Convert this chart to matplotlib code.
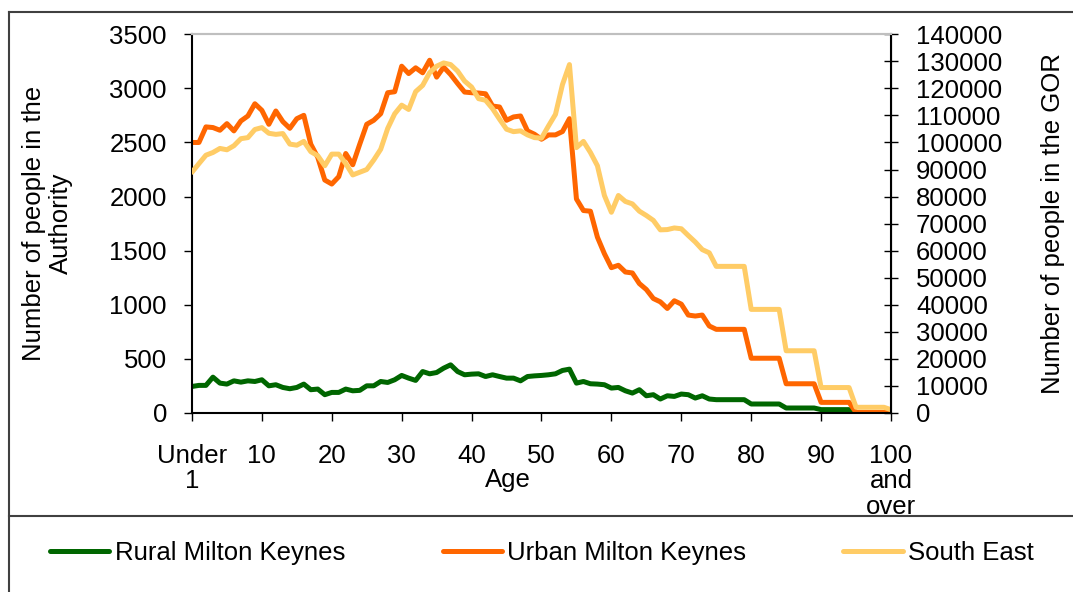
import matplotlib
matplotlib.use('Agg')
import matplotlib.pyplot as plt
from matplotlib.lines import Line2D

# Data
ages = list(range(0, 101))

rural_mk = [245, 255, 255, 331, 276, 267, 297, 285, 297, 291,
            307, 251, 261, 236, 224, 236, 267, 215, 221, 169,
            190, 190, 221, 205, 209, 251, 251, 291, 282, 307,
            347, 322, 301, 383, 362, 374, 414, 445, 383, 353,
            359, 362, 337, 353, 337, 322, 322, 297, 337, 343,
            347, 353, 362, 393, 405, 276, 291, 270, 267, 261,
            230, 236, 205, 184, 215, 159, 169, 129, 159, 153,
            175, 169, 138, 159, 129, 123, 123, 123, 123, 123,
            83, 83, 83, 83, 83, 46, 46, 46, 46, 46,
            31, 31, 31, 31, 31, 3, 3, 3, 3, 3, 3]

urban_mk = [2500, 2500, 2644, 2638, 2613, 2674, 2607, 2699, 2745, 2858,
            2797, 2668, 2791, 2693, 2631, 2720, 2751, 2484, 2362, 2153,
            2116, 2184, 2398, 2294, 2484, 2668, 2705, 2766, 2960, 2969,
            3205, 3137, 3190, 3144, 3260, 3104, 3196, 3128, 3045, 2966,
            2960, 2957, 2950, 2837, 2828, 2705, 2736, 2745, 2607, 2576,
            2530, 2570, 2570, 2601, 2720, 1978, 1871, 1865, 1625, 1472,
            1343, 1365, 1303, 1294, 1196, 1141, 1058, 1027, 966, 1037,
            1006, 905, 896, 905, 804, 773, 773, 773, 773, 773,
            506, 506, 506, 506, 506, 270, 270, 270, 270, 270,
            98, 98, 98, 98, 98, 5, 5, 5, 5, 5, 5]

south_east = [89000, 92200, 95300, 96300, 97800, 97300, 98800, 101400, 101800, 104800,
              105500, 103400, 103000, 103300, 99400, 99000, 100400, 96600, 95100, 91400,
              95700, 95700, 92200, 88000, 89000, 90000, 93500, 97500, 105200, 110600,
              113800, 112200, 118800, 121100, 125800, 128200, 129400, 128800, 126400, 122700,
              120500, 116200, 115600, 112500, 108600, 104900, 104000, 104300, 102800, 101800,
              101600, 106100, 110400, 121400, 128800, 98100, 100400, 96300, 91400, 80400,
              74200, 80400, 78200, 77300, 74600, 73000, 71200, 67700, 67800, 68400,
              68100, 65600, 63200, 60400, 59200, 54200, 54200, 54200, 54200, 54200,
              38300, 38300, 38300, 38300, 38300, 23000, 23000, 23000, 23000, 23000,
              9400, 9400, 9400, 9400, 9400, 2100, 2100, 2100, 2100, 2100, 1200]

x_ticks = list(range(0, 101, 10))
x_labels = ['Under\n1'] + [str(t) for t in range(10, 100, 10)] + ['100\nand\nover']

plt.rcParams['font.family'] = ['Liberation Sans', 'DejaVu Sans']
plt.rcParams['font.size'] = 18.5

fig = plt.figure(figsize=(10.73, 5.92), dpi=100)
ax = fig.add_axes([0.1789, 0.3024, 0.6515, 0.6397])
ax2 = ax.twinx()

l1, = ax.plot(ages, rural_mk, color='#006600', lw=3.6, solid_capstyle='round',
              solid_joinstyle='round', label='Rural Milton Keynes')
l2, = ax.plot(ages, urban_mk, color='#FF6600', lw=3.6, solid_capstyle='round',
              solid_joinstyle='round', label='Urban Milton Keynes')
l3, = ax2.plot(ages, south_east, color='#FFCC66', lw=3.6, solid_capstyle='round',
               solid_joinstyle='round', label='South East')

ax.set_xlim(0, 100)
ax.set_ylim(0, 3500)
ax2.set_ylim(0, 140000)
ax.set_yticks(range(0, 3501, 500))
ax2.set_yticks(range(0, 140001, 10000))
ax.set_xticks(x_ticks)
ax.set_xticklabels(x_labels, va='top', linespacing=1.1)

ax.tick_params(axis='y', direction='out', length=6, width=1, pad=12)
ax.tick_params(axis='x', direction='out', length=6, width=1, pad=16)
ax2.tick_params(axis='y', direction='inout', length=10, width=1, pad=13)

for a in (ax, ax2):
    a.spines['top'].set_color('#BFBFBF')
    a.spines['top'].set_linewidth(1.5)
ax.spines['left'].set_linewidth(1.5)
ax.spines['bottom'].set_linewidth(1.5)
ax2.spines['right'].set_linewidth(1.5)
ax2.spines['left'].set_visible(False)
ax2.spines['bottom'].set_visible(False)

ax.set_ylabel('Number of people in the\nAuthority', labelpad=26)
ax2.set_ylabel('Number of people in the GOR', labelpad=28)
fig.text(508 / 1073, 1 - 480 / 592, 'Age', ha='center', va='center')

# Outer frame and legend separator
frame_col = '#404040'
fig.add_artist(Line2D([0.0084, 1.0], [0.9797, 0.9797], color=frame_col, lw=1.5))
fig.add_artist(Line2D([0.0084, 0.0084], [0.0, 0.9797], color=frame_col, lw=1.5))
fig.add_artist(Line2D([0.0084, 1.0], [0.1284, 0.1284], color=frame_col, lw=1.5))

fig.legend(handles=[l1, l2, l3], loc='center', bbox_to_anchor=(0.505, 0.066),
           ncol=3, frameon=False, handlelength=2.3, handletextpad=0.2,
           columnspacing=3.8)

fig.savefig('out.png', dpi=100)
